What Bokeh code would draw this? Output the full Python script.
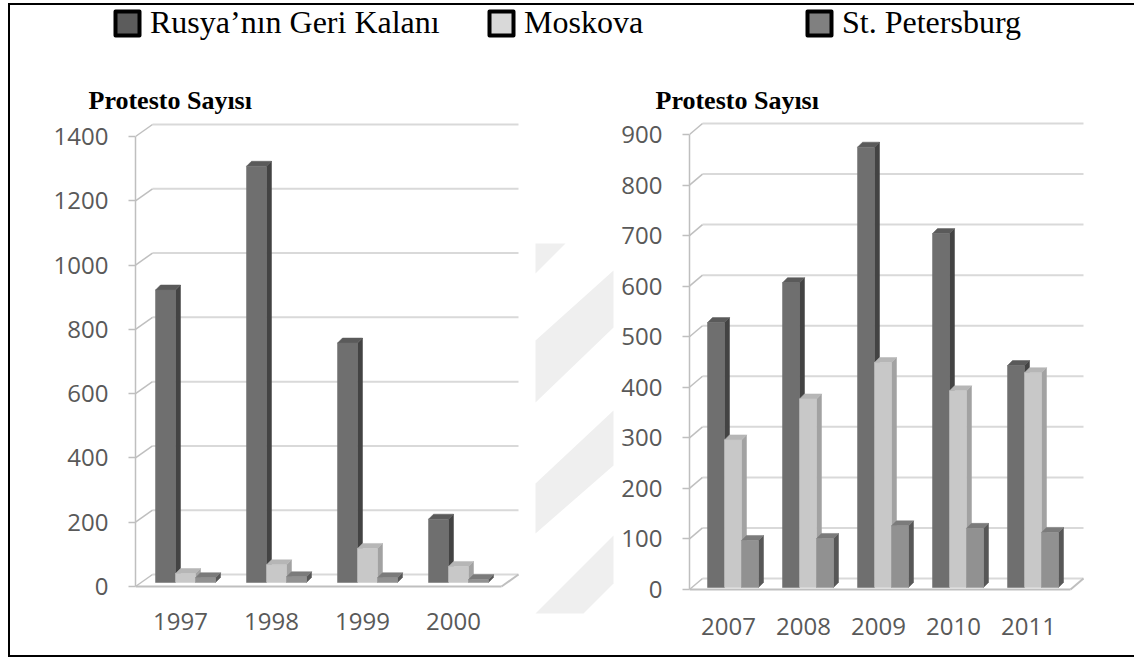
from bokeh.plotting import figure
from bokeh.layouts import column, row
from bokeh.models import (Range1d, FixedTicker, Legend, LegendItem, ColumnDataSource, Spacer)
from bokeh.embed import file_html
from bokeh.resources import INLINE

# ---------------- data ----------------
series_names = ["Rusya’nın Geri Kalanı", "Moskova", "St. Petersburg"]
axis_title = "Protesto Sayısı"

years_a = ["1997", "1998", "1999", "2000"]
rusya_a = [910, 1295, 745, 197]
moskova_a = [28, 55, 106, 50]
spb_a = [15, 18, 15, 9]
ticks_a = [0, 200, 400, 600, 800, 1000, 1200, 1400]

years_b = ["2007", "2008", "2009", "2010", "2011"]
rusya_b = [524, 603, 871, 700, 439]
moskova_b = [292, 373, 445, 389, 425]
spb_b = [93, 97, 122, 117, 109]
ticks_b = [0, 100, 200, 300, 400, 500, 600, 700, 800, 900]

# ---------------- styles ----------------
FRONT = ["#6f6f6f", "#c8c8c8", "#919191"]
SIDE = ["#434343", "#a2a2a2", "#575757"]
TOP = ["#5a5a5a", "#b6b6b6", "#7b7b7b"]
LEGEND_FILL = ["#5c5c5c", "#d9d9d9", "#808080"]
TICK_FONT = "Open Sans"
TICK_COLOR = "#595959"
GRID_COLOR = "#d9d9d9"
AXIS_COLOR = "#bfbfbf"
STRIPE_COLOR = "#efefef"


def chart(years, series, ticks, cfg):
    n = len(years)
    pc = cfg["px_cat"]
    pu = cfg["px_unit"]
    fw, fh = cfg["frame_w"], cfg["frame_h"]
    pad = 3
    x0 = cfg["frame_left"] / pc
    x1 = x0 + fw / pc
    y0 = -pad / pu
    y1 = y0 + fh / pu
    p = figure(width=cfg["bl"] + fw + cfg["br"], height=cfg["bt"] + fh + cfg["bb"],
               x_range=Range1d(x0, x1), y_range=Range1d(y0, y1),
               toolbar_location=None, output_backend="svg", frame_align=False)
    p.min_border_left = cfg["bl"]
    p.min_border_right = cfg["br"]
    p.min_border_top = cfg["bt"]
    p.min_border_bottom = cfg["bb"]
    p.outline_line_color = None
    p.grid.visible = False
    p.background_fill_color = "white"
    p.border_fill_color = "white"

    # panel title ("Protesto Sayısı") above the plot area, starting left of the axis
    p.title.text = axis_title
    p.title.align = "left"
    p.title.offset = cfg["title_offset"]
    p.title.standoff = cfg["title_standoff"]
    p.title.text_font = "Liberation Serif"
    p.title.text_font_size = "26px"
    p.title.text_font_style = "bold"
    p.title.text_color = "black"

    dxb = cfg["back_dx"] / pc
    dyb = cfg["back_dy"] / pu
    wall = x0 + dxb
    grid_end = cfg["grid_end"] / pc
    floor_end = grid_end - dxb

    # back-wall gridlines and connectors to the front axis
    p.segment(x0=[wall] * len(ticks), y0=[t + dyb for t in ticks],
              x1=[grid_end] * len(ticks), y1=[t + dyb for t in ticks],
              line_color=GRID_COLOR, line_width=2)
    p.segment(x0=[x0] * len(ticks), y0=ticks, x1=[wall] * len(ticks),
              y1=[t + dyb for t in ticks], line_color=AXIS_COLOR, line_width=1.5)
    # floor
    p.segment(x0=[x0, floor_end], y0=[0, 0], x1=[floor_end, grid_end], y1=[0, dyb],
              line_color=AXIS_COLOR, line_width=2)

    bw = cfg["bar_w"] / pc
    sd = cfg["side"] / pc
    sdy = cfg["side"] / pu
    base = cfg["base"] / pu
    for s, vals in enumerate(series):
        lefts = [i + cfg["offs"][s] / pc for i in range(n)]
        rights = [l + bw for l in lefts]
        tops = [base + v for v in vals]
        side_xs = [[r, r, r + sd, r + sd] for r in rights]
        side_ys = [[base, t, t + sdy, base + sdy] for t in tops]
        top_xs = [[l, r, r + sd, l + sd] for l, r in zip(lefts, rights)]
        top_ys = [[t, t, t + sdy, t + sdy] for t in tops]
        p.patches(xs=side_xs, ys=side_ys, fill_color=SIDE[s], line_color=SIDE[s], line_width=0.5)
        p.patches(xs=top_xs, ys=top_ys, fill_color=TOP[s], line_color=TOP[s], line_width=0.5)
        p.quad(left=lefts, right=rights, bottom=[base] * n, top=tops,
               fill_color=FRONT[s], line_color=FRONT[s], line_width=0.5)

    ya = p.yaxis[0]
    ya.ticker = FixedTicker(ticks=ticks)
    ya.bounds = (0, ticks[-1])
    ya.axis_line_color = AXIS_COLOR
    ya.axis_line_width = 1.5
    ya.major_tick_line_color = AXIS_COLOR
    ya.major_tick_line_width = 1.5
    ya.major_tick_out = 7
    ya.major_tick_in = 0
    ya.minor_tick_line_color = None
    ya.major_label_standoff = 20
    ya.major_label_text_font = TICK_FONT
    ya.major_label_text_font_size = "24px"
    ya.major_label_text_color = TICK_COLOR

    xa = p.xaxis[0]
    xa.ticker = FixedTicker(ticks=list(range(n)))
    xa.major_label_overrides = {i: y for i, y in enumerate(years)}
    xa.axis_line_color = None
    xa.major_tick_line_color = None
    xa.minor_tick_line_color = None
    xa.major_label_standoff = cfg["xstand"]
    xa.major_label_text_font = TICK_FONT
    xa.major_label_text_font_size = "24px"
    xa.major_label_text_color = TICK_COLOR
    return p


cfg_a = dict(px_cat=91.0, px_unit=450 / 1400, frame_left=135 - 180, frame_w=387, frame_h=471,
             bl=125, br=8, bt=43, bb=66, back_dx=17, back_dy=12, grid_end=518 - 180,
             bar_w=20, side=5, base=4, offs=[-25, -5, 15], xstand=17,
             title_offset=88 - 135, title_standoff=7)
cfg_b = dict(px_cat=75.0, px_unit=455 / 900, frame_left=689 - 728, frame_w=397, frame_h=474,
             bl=74, br=48, bt=43, bb=63, back_dx=13, back_dy=11, grid_end=1083 - 728,
             bar_w=17, side=5, base=2, offs=[-21, -4, 13], xstand=19,
             title_offset=655 - 689, title_standoff=7)

left = chart(years_a, [rusya_a, moskova_a, spb_a], ticks_a, cfg_a)
right = chart(years_b, [rusya_b, moskova_b, spb_b], ticks_b, cfg_b)

# ---------------- decorative diagonal stripes between the two panels ----------------
mid = figure(width=85, height=580, x_range=Range1d(530, 615), y_range=Range1d(655, 75),
             toolbar_location=None, output_backend="svg", frame_align=False,
             x_axis_location=None, y_axis_location=None)
mid.min_border = 0
mid.outline_line_color = None
mid.grid.visible = False
stripe_xs = [[535, 565, 535], [535, 613, 613, 535], [535, 613, 613, 535], [535, 613, 613, 583]]
stripe_ys = [[243, 243, 273], [340, 270, 327, 402], [483, 410, 465, 533], [613, 535, 583, 613]]
mid.patches(xs=stripe_xs, ys=stripe_ys, fill_color=STRIPE_COLOR, line_color=None)

# ---------------- top: legend ----------------
top = figure(width=1124, height=70, x_range=Range1d(10, 1134), y_range=Range1d(75, 5),
             toolbar_location=None, output_backend="svg", frame_align=False,
             x_axis_location=None, y_axis_location=None)
top.min_border = 0
top.outline_line_color = None
top.grid.visible = False

# one off-screen swatch per series, only used for the legend glyph
hidden = ColumnDataSource(data=dict(l=[-200], r=[-190], b=[-200], t=[-190]))
legend_x = [102, 476, 794]
for s, name in enumerate(series_names):
    r = top.quad(left="l", right="r", bottom="b", top="t", source=hidden,
                 fill_color=LEGEND_FILL[s], line_color="black", line_width=4,
                 line_join="round")
    leg = Legend(items=[LegendItem(label=name, renderers=[r])], location=(legend_x[s], 34),
                 orientation="horizontal", label_text_font="Liberation Serif",
                 label_text_font_size="32px", label_text_color="black",
                 glyph_width=30, glyph_height=30, label_standoff=8,
                 padding=0, margin=0, border_line_alpha=0, background_fill_alpha=0)
    top.add_layout(leg)

inner = column(top, row(left, mid, right),
               styles={"border-left": "2px solid black", "border-top": "2px solid black",
                       "border-bottom": "2px solid black", "border-right": "none"})
layout = column(Spacer(height=3), row(Spacer(width=8), inner))

open("out.html", "w").write(file_html(layout, INLINE))
